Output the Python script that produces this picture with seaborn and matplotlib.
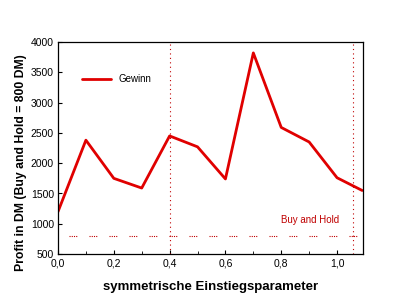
import numpy as np
import pandas as pd
import matplotlib
matplotlib.use("Agg")
import matplotlib.pyplot as plt
import matplotlib.ticker as mticker
import seaborn as sns

# ── Data ─────────────────────────────────────────────────────────────────────
einstieg = [0.0, 0.1, 0.2, 0.3, 0.4, 0.5, 0.6, 0.7, 0.8, 0.9, 1.0, 1.09]
gewinn   = [1200, 2380, 1750, 1590, 2450, 2270, 1740, 3820, 2590, 2350, 1760, 1550]
buy_hold = 800
vlines   = [0.4, 1.057]

df = pd.DataFrame({"x": einstieg, "Gewinn": gewinn})

sns.set_style("ticks")
plt.rcParams["font.family"] = ["Liberation Sans", "DejaVu Sans"]
plt.rcParams["text.color"] = "black"
plt.rcParams["axes.labelcolor"] = "black"
plt.rcParams["xtick.color"] = "black"
plt.rcParams["ytick.color"] = "black"

fig = plt.figure(figsize=(4, 3), dpi=100)
ax = fig.add_axes([0.145, 0.153, 0.7625, 0.707])

sns.lineplot(data=df, x="x", y="Gewinn", color="#e00000", linewidth=2,
             label="Gewinn", ax=ax)

ax.axhline(buy_hold, xmin=0.035, color="#c00000", linewidth=0.8,
           linestyle=(0, (1, 1, 1, 1, 1, 1, 1, 11)))
for v in vlines:
    ax.axvline(v, color="#c00000", linewidth=0.8, linestyle=(0, (1, 3)))
ax.text(0.8, 1060, "Buy and Hold", color="#c00000", fontsize=7,
        ha="left", va="center")

ax.set_xlim(0, 1.093)
ax.set_ylim(500, 4000)
ax.xaxis.set_major_locator(mticker.MultipleLocator(0.2))
ax.xaxis.set_minor_locator(mticker.MultipleLocator(0.1))
ax.yaxis.set_major_locator(mticker.MultipleLocator(500))
ax.xaxis.set_major_formatter(mticker.FuncFormatter(lambda v, p: f"{v:.1f}".replace(".", ",")))
ax.tick_params(direction="in", length=3, width=0.8, labelsize=7.5, pad=3)
ax.tick_params(which="minor", direction="in", length=2, width=0.6)
for s in ax.spines.values():
    s.set_visible(True)
    s.set_linewidth(0.9)
    s.set_color("black")

ax.set_xlabel("symmetrische Einstiegsparameter", fontsize=9.5, fontweight="bold", labelpad=9)
ax.set_ylabel("Profit in DM (Buy and Hold = 800 DM)", fontsize=8.8, fontweight="bold", labelpad=4)
ax.yaxis.set_label_coords(-0.10, 0.43)

leg = ax.legend(loc="upper left", bbox_to_anchor=(0.05, 0.89), frameon=False,
                fontsize=7, handlelength=3)

fig.savefig("out.png", dpi=100, facecolor="white")
